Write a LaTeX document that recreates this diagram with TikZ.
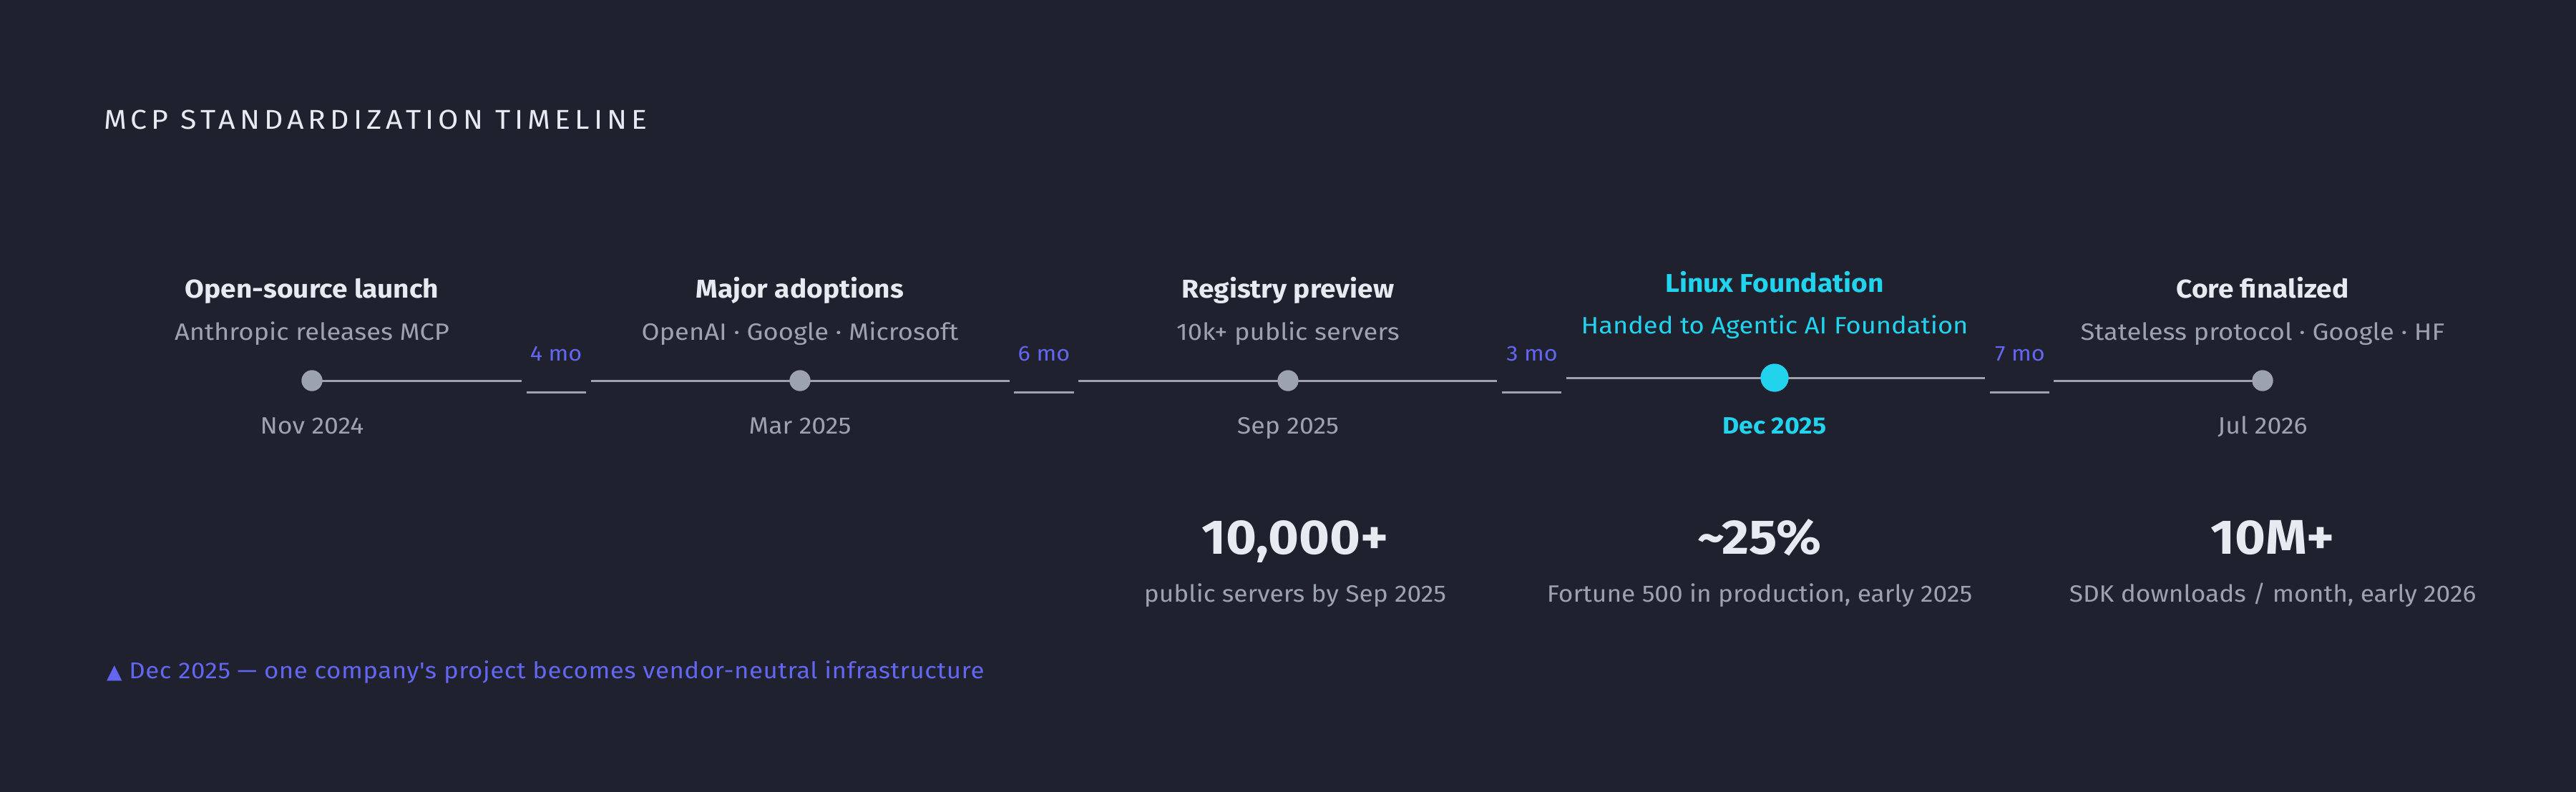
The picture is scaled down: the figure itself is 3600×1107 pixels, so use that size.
\documentclass[tikz,border=0pt]{standalone}
\usepackage{fontspec}
\setmainfont[FakeStretch=1.08]{Fira Sans}
\newfontfamily\subfont[FakeStretch=1.10]{Fira Sans}
\newfontfamily\capfont[FakeStretch=1.07]{Fira Sans}
\newfontfamily\titlefont[LetterSpace=16, FakeStretch=1.08]{Fira Sans}
\newfontfamily\footfont[LetterSpace=1.6, FakeStretch=1.09]{Fira Sans}
\newfontfamily\symfont{DejaVu Sans}
\definecolor{bg}{HTML}{1F222E}
\definecolor{txtw}{HTML}{E8EAF2}
\definecolor{txtg}{HTML}{9CA3AF}
\definecolor{indig}{HTML}{6366F1}
\definecolor{cyanx}{HTML}{22D3EE}
\definecolor{lineg}{HTML}{9CA3AF}
\tikzset{
  evtitle/.style={anchor=base, text=txtw, font=\fontsize{36}{40}\selectfont\bfseries, inner sep=0pt},
  evsub/.style={anchor=base, text=txtg, font=\subfont\fontsize{33}{38}\selectfont, inner sep=0pt},
  evdate/.style={anchor=base, text=txtg, font=\fontsize{33}{38}\selectfont, inner sep=0pt},
  durlab/.style={anchor=base, text=indig, font=\fontsize{30}{34}\selectfont, inner sep=0pt},
  statnum/.style={anchor=base, text=txtw, font=\fontsize{68}{72}\selectfont\bfseries, inner sep=0pt},
  statcap/.style={anchor=base, text=txtg, font=\capfont\fontsize{33}{38}\selectfont, inner sep=0pt},
  dotg/.style={circle, fill=lineg, minimum size=29pt, inner sep=0pt},
  dotc/.style={circle, fill=cyanx, minimum size=39pt, inner sep=0pt},
  tl/.style={draw=lineg, line width=3pt},
  gapline/.style={draw=lineg, line width=3pt},
}
\begin{document}
\begin{tikzpicture}[x=1pt, y=-1pt]
\fill[bg] (0,0) rectangle (3600,1107);
\useasboundingbox (0,0) rectangle (3600,1107);

% title
\node[anchor=base west, inner sep=0pt, text=txtw, font=\titlefont\fontsize{38}{40}\selectfont] (title) at (145,181) {MCP STANDARDIZATION TIMELINE};

% gap coordinates
\coordinate (g1l) at (729,532);  \coordinate (g1r) at (826,532);
\coordinate (g2l) at (1411,532); \coordinate (g2r) at (1507,532);
\coordinate (g3l) at (2092,532); \coordinate (g3r) at (2189,528);
\coordinate (g4l) at (2774,528); \coordinate (g4r) at (2870,532);

% dots (placed first for names)
\node[dotg] (d1) at (436,532) {};
\node[dotg] (d2) at (1118,532) {};
\node[dotg] (d3) at (1800,532) {};
\node[dotc] (d4) at (2480,528) {};
\node[dotg] (d5) at (3162,532) {};

% timeline lines
\draw[tl] (d1.center) -- (g1l);
\draw[tl] (g1r) -- (d2.center) -- (g2l);
\draw[tl] (g2r) -- (d3.center) -- (g3l);
\draw[tl] (g3r) -- (d4.center) -- (g4l);
\draw[tl] (g4r) -- (d5.center);
% dots on top of the lines
\node[dotg] at (d1) {};
\node[dotg] at (d2) {};
\node[dotg] at (d3) {};
\node[dotc] at (d4) {};
\node[dotg] at (d5) {};

% gap short segments and labels
\coordinate (s1l) at (736,548);  \coordinate (s1r) at (819,548);
\coordinate (s2l) at (1417,548); \coordinate (s2r) at (1501,548);
\coordinate (s3l) at (2099,548); \coordinate (s3r) at (2182,548);
\coordinate (s4l) at (2781,548); \coordinate (s4r) at (2864,548);
\draw[gapline] (s1l) -- (s1r);
\draw[gapline] (s2l) -- (s2r);
\draw[gapline] (s3l) -- (s3r);
\draw[gapline] (s4l) -- (s4r);
\node[durlab] (m1) at (777,504) {4 mo};
\node[durlab] (m2) at (1459,504) {6 mo};
\node[durlab] (m3) at (2141,504) {3 mo};
\node[durlab] (m4) at (2823,504) {7 mo};

% event texts
\node[evtitle] (t1) at (436,416) {Open-source launch};
\node[evsub]   (u1) at (436,475) {Anthropic releases MCP};
\node[evdate]  (a1) at (436,606) {Nov 2024};

\node[evtitle] (t2) at (1118,416) {Major adoptions};
\node[evsub]   (u2) at (1118,475) {OpenAI · Google · Microsoft};
\node[evdate]  (a2) at (1118,606) {Mar 2025};

\node[evtitle] (t3) at (1800,416) {Registry preview};
\node[evsub]   (u3) at (1800,475) {10k+ public servers};
\node[evdate]  (a3) at (1800,606) {Sep 2025};

\node[evtitle, text=cyanx] (t4) at (2480,408) {Linux Foundation};
\node[evsub, text=cyanx]   (u4) at (2480,466) {Handed to Agentic AI Foundation};
\node[evdate, text=cyanx, font=\fontsize{33}{38}\selectfont\bfseries] (a4) at (2480,606) {Dec 2025};

\node[evtitle] (t5) at (3162,416) {Core finalized};
\node[evsub]   (u5) at (3162,475) {Stateless protocol · Google · HF};
\node[evdate]  (a5) at (3162,606) {Jul 2026};

% stats
\node[statnum] (n1) at (1810,774) {10,000+};
\node[statcap] (c1) at (1810,841) {public servers by Sep 2025};
\node[statnum] (n2) at (2459,774) {\textasciitilde 25\%};
\node[statcap] (c2) at (2459,841) {Fortune 500 in production, early 2025};
\node[statnum] (n3) at (3176,774) {10M+};
\node[statcap] (c3) at (3176,841) {SDK downloads / month, early 2026};

% footnote
\node[anchor=base west, inner sep=0pt, text=indig, font=\footfont\fontsize{32}{36}\selectfont] (foot) at (149,948) {{\symfont\fontsize{28}{30}\selectfont ▲} Dec 2025 — one company's project becomes vendor-neutral infrastructure};
\end{tikzpicture}
\end{document}
